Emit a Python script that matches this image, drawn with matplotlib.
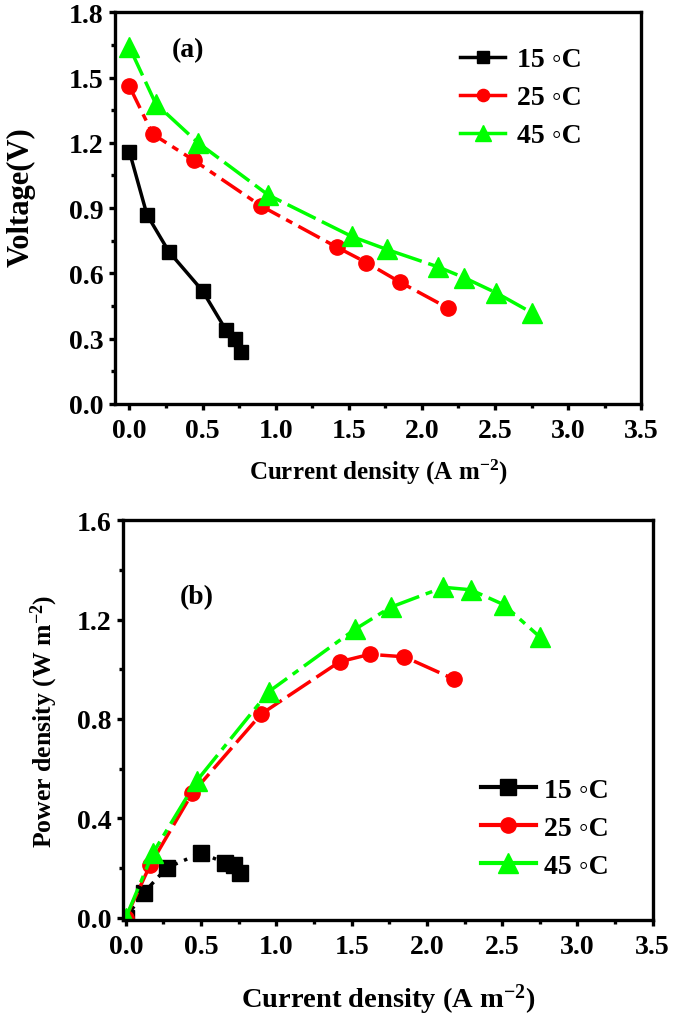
import matplotlib
matplotlib.use("Agg")
import matplotlib.pyplot as plt
from matplotlib.lines import Line2D
from matplotlib.ticker import MultipleLocator

plt.rcParams['font.family'] = ['Liberation Serif', 'DejaVu Serif']
plt.rcParams['font.weight'] = 'bold'
plt.rcParams['mathtext.fontset'] = 'custom'
plt.rcParams['mathtext.rm'] = 'Liberation Serif:bold'
plt.rcParams['mathtext.bf'] = 'Liberation Serif:bold'
plt.rcParams['mathtext.default'] = 'rm'

labels = ["15 \u25e6C", "25 \u25e6C", "45 \u25e6C"]
colors = ["black", "red", "#00ff00"]
markers = ["s", "o", "^"]

# (a) polarization curves
i15 = [0.0, 0.12, 0.27, 0.50, 0.66, 0.72, 0.76]
v15 = [1.16, 0.87, 0.70, 0.52, 0.34, 0.30, 0.24]
i25 = [0.0, 0.16, 0.44, 0.90, 1.42, 1.62, 1.85, 2.18]
v25 = [1.46, 1.24, 1.12, 0.91, 0.72, 0.65, 0.56, 0.44]
i45 = [0.0, 0.18, 0.47, 0.95, 1.52, 1.76, 2.11, 2.29, 2.51, 2.75]
v45 = [1.64, 1.38, 1.20, 0.96, 0.77, 0.71, 0.63, 0.58, 0.51, 0.42]

# (b) power density curves
pi15 = [0.0, 0.12, 0.27, 0.50, 0.66, 0.72, 0.76]
p15 = [0.0, 0.10, 0.20, 0.26, 0.22, 0.21, 0.18]
pi25 = [0.0, 0.16, 0.44, 0.90, 1.42, 1.62, 1.85, 2.18]
p25 = [0.0, 0.21, 0.50, 0.82, 1.03, 1.06, 1.05, 0.96]
pi45 = [0.0, 0.18, 0.47, 0.95, 1.52, 1.76, 2.11, 2.29, 2.51, 2.75]
p45 = [0.0, 0.26, 0.55, 0.91, 1.16, 1.25, 1.33, 1.32, 1.26, 1.13]

fig = plt.figure(figsize=(6.75, 10.2), dpi=100)
ax1 = fig.add_axes([0.170, 0.603, 0.780, 0.384])
ax2 = fig.add_axes([0.182, 0.097, 0.785, 0.392])


def style(ax):
    for s in ax.spines.values():
        s.set_linewidth(2.4)
    ax.tick_params(which='major', direction='out', length=4, width=2.4,
                   labelsize=20, top=False, right=False)
    ax.tick_params(which='minor', direction='out', length=3, width=2.4,
                   top=False, right=False)
    ax.tick_params(axis='x', pad=6)
    ax.tick_params(axis='y', pad=4)
    ax.xaxis.set_major_locator(MultipleLocator(0.5))
    ax.xaxis.set_minor_locator(MultipleLocator(0.25))
    for t in ax.get_xticklabels() + ax.get_yticklabels():
        t.set_fontweight('bold')


ms = [10, 11, 14]
# legend shows solid lines
handles = [Line2D([], [], color=colors[k], marker=markers[k], ls='-', lw=2.5,
                  ms=ms[k] * 0.8) for k in range(3)]

ls_a = ['-', (0, (7, 2, 2, 2)), (0, (9, 2))]
ax1.plot(i15, v15, color=colors[0], marker=markers[0], ls=ls_a[0], lw=2.5, ms=ms[0])
ax1.plot(i25, v25, color=colors[1], marker=markers[1], ls=ls_a[1], lw=2.5, ms=ms[1])
ax1.plot(i45, v45, color=colors[2], marker=markers[2], ls=ls_a[2], lw=2.5, ms=ms[2])
ax1.set_xlim(-0.1, 3.5)
ax1.set_ylim(0, 1.8)
ax1.yaxis.set_major_locator(MultipleLocator(0.3))
ax1.yaxis.set_minor_locator(MultipleLocator(0.15))
style(ax1)
ax1.set_xlabel(r"Current density (A m$^{-2}$)", fontsize=18, fontweight='bold', labelpad=10)
ax1.set_ylabel("Voltage(V)", fontsize=22, fontweight='bold', labelpad=20)
ax1.yaxis.set_label_coords(-0.15, 0.53)
ax1.text(0.14, 0.905, "(a)", transform=ax1.transAxes, fontsize=20,
         fontweight='bold', ha='center', va='center')
ax1.legend(handles, labels, loc='upper right', bbox_to_anchor=(0.935, 0.975), frameon=False,
           fontsize=20, handlelength=1.6, handletextpad=0.45, labelspacing=0.45)

ls_b = [(0, (4, 2, 1, 2)), (0, (8, 2)), (0, (9, 2, 2, 2))]
ax2.plot(pi15, p15, color=colors[0], marker=markers[0], ls=ls_b[0], lw=2.5, ms=11)
ax2.plot(pi25, p25, color=colors[1], marker=markers[1], ls=ls_b[1], lw=2.5, ms=11)
ax2.plot(pi45, p45, color=colors[2], marker=markers[2], ls=ls_b[2], lw=2.5, ms=14)
ax2.set_xlim(-0.02, 3.5)
ax2.set_ylim(-0.01, 1.6)
ax2.yaxis.set_major_locator(MultipleLocator(0.4))
ax2.yaxis.set_minor_locator(MultipleLocator(0.2))
style(ax2)
ax2.set_xlabel(r"Current density (A m$^{-2}$)", fontsize=20.5, fontweight='bold', labelpad=16)
ax2.set_ylabel(r"Power density (W m$^{-2}$)", fontsize=18.5, fontweight='bold', labelpad=12)
ax2.text(0.14, 0.81, "(b)", transform=ax2.transAxes, fontsize=20,
         fontweight='bold', ha='center', va='center')
handles_b = [Line2D([], [], color=colors[k], marker=markers[k], ls='-', lw=3,
                    ms=[11, 11, 14][k]) for k in range(3)]
ax2.legend(handles_b, labels, loc='lower right', bbox_to_anchor=(0.965, 0.04), frameon=False,
           fontsize=20, handlelength=2.0, handletextpad=0.3, labelspacing=0.45)

fig.savefig("out.png", dpi=100)
